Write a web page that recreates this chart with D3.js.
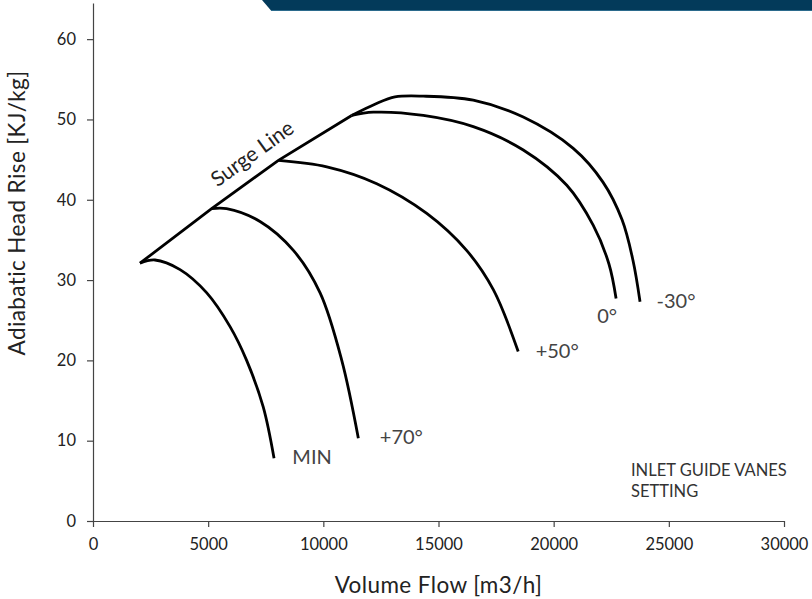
<!DOCTYPE html>
<html>
<head>
<meta charset="utf-8">
<script src="https://cdn.jsdelivr.net/npm/d3@7/dist/d3.min.js"></script>
<style>
  html, body { margin: 0; padding: 0; background: #fff; }
  svg { display: block; font-family: Lato, "Open Sans", sans-serif; }
</style>
</head>
<body>
<svg id="chart" width="812" height="599"></svg>
<script>
// Compressor map: head rise vs. volume flow for each inlet guide vane setting
const flowTicks = [0, 5000, 10000, 15000, 20000, 25000, 30000];
const headTicks = [0, 10, 20, 30, 40, 50, 60];

// [volume flow m3/h, adiabatic head kJ/kg]
const curveMin   = [[2040,32.1],[2690,32.5],[3780,31.3],[4940,28.4],[5950,24.2],[6670,20.0],[7390,14.2],[7860,7.8]];
const curvePlus70 = [[5150,38.9],[5800,38.9],[7250,37.3],[8700,33.7],[9860,28.4],[10800,20.0],[11520,10.3]];
const curvePlus50 = [[8050,44.9],[10150,44.1],[12320,42.0],[14490,38.3],[16220,33.7],[17380,28.8],[18460,21.1]];
const curveZero   = [[11230,50.5],[12170,50.9],[14340,50.5],[16510,49.1],[18680,46.2],[20570,41.8],[21720,36.8],[22400,32.0],[22710,27.7]];
const curveMinus30 = [[11230,50.5],[12240,51.9],[13110,52.8],[14340,52.9],[16510,52.4],[18680,50.3],[20850,46.4],[22140,42.2],[22970,37.5],[23440,32.5],[23750,27.3]];
const surgeLine   = [[2040,32.1],[5150,38.9],[8050,44.9],[11230,50.5]];

const vaneLabels = ["MIN", "+70°", "+50°", "0°", "-30°"];
const vaneCurves = [curveMin, curvePlus70, curvePlus50, curveZero, curveMinus30];
// label offsets from each curve's end point, in pixels
const labelOffsets = [[38,-2],[43,-1],[39,-1],[-9,17],[36,-1]];

const svg = d3.select("#chart");

const x = d3.scaleLinear().domain([0, 30000]).range([93, 784]);
const y = d3.scaleLinear().domain([0, 64.5]).range([521, 3]);

// header band
svg.append("path")
  .attr("d", "M262,0 L812,0 L812,10.5 L271,10.5 Z")
  .attr("fill", "#033a5a");
svg.append("line")
  .attr("x1", 271).attr("x2", 812).attr("y1", 10.5).attr("y2", 10.5)
  .attr("stroke", "#2b6a8c").attr("stroke-width", 1);

// axes
const xAxis = svg.append("g")
  .attr("transform", `translate(0,${y(0)})`)
  .call(d3.axisBottom(x).tickValues(flowTicks).tickFormat(d3.format("d"))
        .tickSize(6).tickSizeOuter(0).tickPadding(11));
const yAxis = svg.append("g")
  .attr("transform", `translate(${x(0)},0)`)
  .call(d3.axisLeft(y).tickValues(headTicks).tickSize(6).tickSizeOuter(0).tickPadding(11));

[xAxis, yAxis].forEach(g => {
  g.select(".domain").attr("stroke", "#444").attr("stroke-width", 1.2);
  g.selectAll(".tick line").attr("stroke", "#444").attr("stroke-width", 1.2);
  g.selectAll(".tick text").attr("fill", "#222")
    .style("font-family", "Lato, sans-serif").style("font-size", "16.5px");
});

// performance curves
const line = d3.line().x(d => x(d[0])).y(d => y(d[1])).curve(d3.curveCatmullRom.alpha(0.5));

svg.append("g")
  .selectAll("path")
  .data(vaneCurves)
  .join("path")
  .attr("d", line)
  .attr("fill", "none")
  .attr("stroke", "#000")
  .attr("stroke-width", 2.8);

svg.append("path")
  .datum(surgeLine)
  .attr("d", d3.line().x(d => x(d[0])).y(d => y(d[1])))
  .attr("fill", "none")
  .attr("stroke", "#000")
  .attr("stroke-width", 2.8)
  .attr("stroke-linejoin", "miter");

// surge line caption, rotated along the line and lifted off it
const sa = surgeLine[1], sb = surgeLine[2];
const dx = x(sb[0]) - x(sa[0]), dy = y(sb[1]) - y(sa[1]);
const len = Math.hypot(dx, dy), ux = dx / len, uy = dy / len;
const ang = Math.atan2(dy, dx) * 180 / Math.PI;
const along = 24, lift = 21;
const cx = (x(sa[0]) + x(sb[0])) / 2 + ux * along + uy * lift;
const cy = (y(sa[1]) + y(sb[1])) / 2 + uy * along - ux * lift;
svg.append("text")
  .attr("transform", `translate(${cx},${cy}) rotate(${ang})`)
  .attr("text-anchor", "middle")
  .attr("dy", "0.35em")
  .attr("fill", "#222")
  .style("font-size", "21px")
  .text("Surge Line");

// vane setting labels at curve ends
svg.append("g")
  .selectAll("text")
  .data(vaneCurves)
  .join("text")
  .attr("x", (d, i) => x(d[d.length - 1][0]) + labelOffsets[i][0])
  .attr("y", (d, i) => y(d[d.length - 1][1]) + labelOffsets[i][1])
  .attr("text-anchor", "middle")
  .attr("dy", "0.36em")
  .attr("fill", "#444")
  .style("font-size", "20px")
  .text((d, i) => vaneLabels[i]);

svg.append("text")
  .attr("x", 631).attr("y", 470).attr("dy", "0.36em")
  .attr("fill", "#333").style("font-size", "16.5px")
  .text("INLET GUIDE VANES");
svg.append("text")
  .attr("x", 631).attr("y", 491).attr("dy", "0.36em")
  .attr("fill", "#333").style("font-size", "16.5px")
  .text("SETTING");

// axis titles
svg.append("text")
  .attr("x", (x(0) + x(30000)) / 2).attr("y", 585).attr("dy", "0.36em")
  .attr("text-anchor", "middle").attr("fill", "#222")
  .style("font-size", "22.5px").style("letter-spacing", "0.4px")
  .text("Volume Flow [m3/h]");
svg.append("text")
  .attr("transform", "translate(17,213) rotate(-90)")
  .attr("text-anchor", "middle").attr("dy", "0.36em").attr("fill", "#222")
  .style("font-size", "22.5px").style("letter-spacing", "0.4px")
  .text("Adiabatic Head Rise [KJ/kg]");
</script>
</body>
</html>
